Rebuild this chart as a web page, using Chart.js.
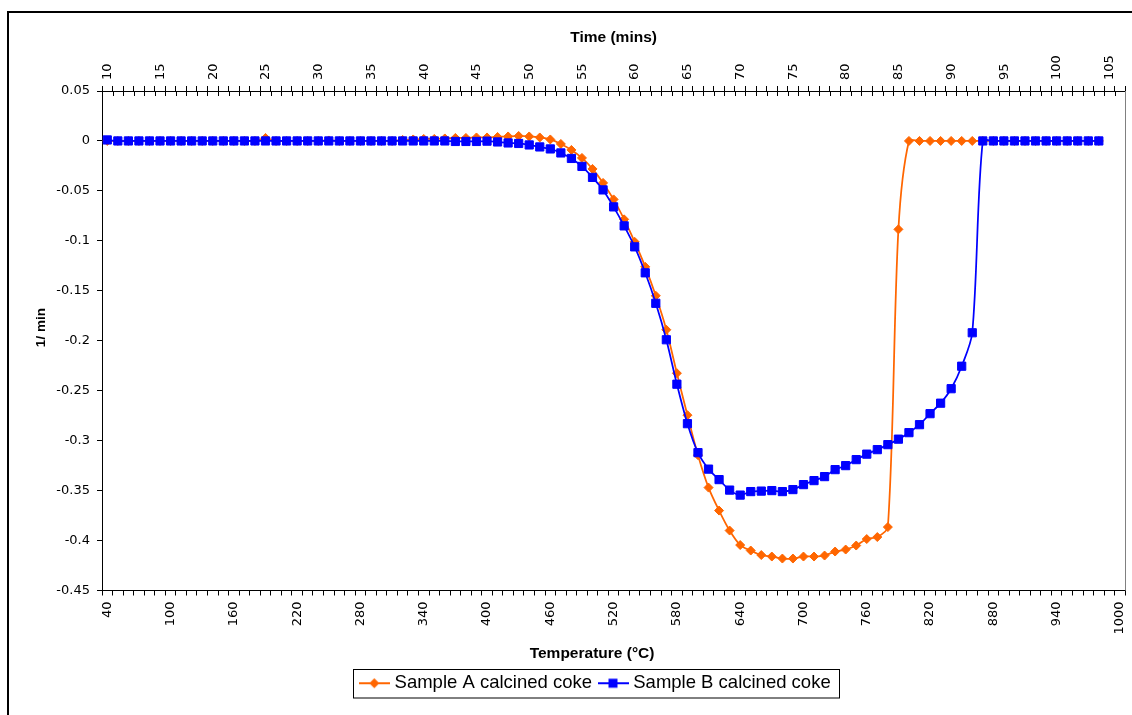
<!DOCTYPE html>
<html>
<head>
<meta charset="utf-8">
<script src="https://cdn.jsdelivr.net/npm/chart.js@4"></script>
<style>
  html, body { margin: 0; padding: 0; background: #fff; overflow: hidden; }
  #wrap { position: relative; width: 1132px; height: 715px; }
  #frame { position: absolute; left: 7px; top: 11px; width: 1300px; height: 900px; border: 2px solid #000; }
  #myChart { position: absolute; left: 0; top: 0; }
</style>
</head>
<body>
<div id="wrap">
  <div id="frame"></div>
  <canvas id="myChart" width="1132" height="715"></canvas>
</div>
<script>
// temperature categories (°C), one per minute
const temps = [
  40, 50, 60, 70, 80, 90, 100, 110, 120, 130, 140, 150, 160, 170, 180, 190, 200, 210, 220, 230,
  240, 250, 260, 270, 280, 290, 300, 310, 320, 330, 340, 350, 360, 370, 380, 390, 400, 410, 420, 430,
  440, 450, 460, 470, 480, 490, 500, 510, 520, 530, 540, 550, 560, 570, 580, 590, 600, 610, 620, 630,
  640, 650, 660, 670, 680, 690, 700, 710, 720, 730, 740, 750, 760, 770, 780, 790, 800, 810, 820, 830,
  840, 850, 860, 870, 880, 890, 900, 910, 920, 930, 940, 950, 960, 970, 980, 990, 1000
];
// time categories (mins) for the top axis
const times = [
  10, 11, 12, 13, 14, 15, 16, 17, 18, 19, 20, 21, 22, 23, 24, 25, 26, 27, 28, 29,
  30, 31, 32, 33, 34, 35, 36, 37, 38, 39, 40, 41, 42, 43, 44, 45, 46, 47, 48, 49,
  50, 51, 52, 53, 54, 55, 56, 57, 58, 59, 60, 61, 62, 63, 64, 65, 66, 67, 68, 69,
  70, 71, 72, 73, 74, 75, 76, 77, 78, 79, 80, 81, 82, 83, 84, 85, 86, 87, 88, 89,
  90, 91, 92, 93, 94, 95, 96, 97, 98, 99, 100, 101, 102, 103, 104, 105, 106
];
const tempTicks = [40, 100, 160, 220, 280, 340, 400, 460, 520, 580, 640, 700, 760, 820, 880, 940, 1000];
const timeTicks = [10, 15, 20, 25, 30, 35, 40, 45, 50, 55, 60, 65, 70, 75, 80, 85, 90, 95, 100, 105];

const sampleA = [
  0, 0, 0, 0, 0, 0, 0, 0, 0, 0, 0, 0, 0, 0, 0, 0.003, 0, 0, 0, 0,
  0, 0.0005, 0, 0, 0, 0, 0, 0, 0.001, 0.0015, 0.002, 0.002, 0.0025, 0.003, 0.003, 0.0035, 0.0035, 0.004, 0.0045, 0.005,
  0.0045, 0.0035, 0.0015, -0.003, -0.009, -0.017, -0.028, -0.042, -0.0585, -0.0785, -0.101, -0.126, -0.155, -0.189, -0.2325, -0.2745, -0.3145, -0.347, -0.37, -0.39,
  -0.4045, -0.41, -0.4145, -0.416, -0.418, -0.418, -0.416, -0.416, -0.415, -0.411, -0.409, -0.405, -0.3985, -0.3965, -0.3865, -0.0885, 0, 0, 0, 0,
  0, 0, 0, 0, 0, 0, 0, 0, 0, 0, 0, 0, 0, 0, 0
];
const sampleB = [
  0.001, 0, 0, 0, 0, 0, 0, 0, 0, 0, 0, 0, 0, 0, 0, 0, 0, 0, 0, 0,
  0, 0, 0, 0, 0, 0, 0, 0, 0, 0, 0, 0, 0, -0.0005, -0.0005, -0.0005, -0.0002, -0.001, -0.002, -0.0025,
  -0.004, -0.006, -0.008, -0.012, -0.0175, -0.0255, -0.0365, -0.049, -0.066, -0.085, -0.106, -0.132, -0.1625, -0.199, -0.2435, -0.283, -0.312, -0.3285, -0.339, -0.3495,
  -0.3545, -0.351, -0.3505, -0.35, -0.351, -0.349, -0.344, -0.34, -0.336, -0.329, -0.325, -0.319, -0.3135, -0.309, -0.304, -0.2985, -0.292, -0.284, -0.273, -0.2625,
  -0.248, -0.2255, -0.192, 0, 0, 0, 0, 0, 0, 0, 0, 0, 0, 0, 0
];

const orange = '#FF6600';
const blue = '#0000FF';
const tickFont = { family: '"DejaVu Sans", sans-serif', size: 13 };
const titleFont = { family: '"Liberation Sans", Arial, sans-serif', size: 15.5, weight: 'bold' };

// little line + marker pictures for the legend
function legendIcon(color, diamond) {
  const c = document.createElement('canvas');
  c.width = 31; c.height = 14;
  const g = c.getContext('2d');
  g.strokeStyle = color; g.lineWidth = 2;
  g.beginPath(); g.moveTo(0, 7); g.lineTo(31, 7); g.stroke();
  g.fillStyle = color;
  g.beginPath();
  if (diamond) { g.moveTo(15.5, 2); g.lineTo(20.5, 7); g.lineTo(15.5, 12); g.lineTo(10.5, 7); }
  else { g.rect(11, 2.5, 9, 9); }
  g.fill();
  return c;
}
const icons = [legendIcon(orange, true), legendIcon(blue, false)];

// legend border + position, right border of plot, inner half of top ticks
const frames = {
  id: 'frames',
  afterLayout(chart) {
    const lg = chart.legend;
    const dx = 597 - (lg.left + lg.right) / 2;
    const dy = 664 - lg.top;
    lg.left += dx; lg.right += dx; lg.top += dy; lg.bottom += dy;
  },
  afterDraw(chart) {
    const { ctx, chartArea: a } = chart;
    ctx.save();
    ctx.lineWidth = 1;
    ctx.strokeStyle = '#808080';
    ctx.beginPath();
    ctx.moveTo(Math.round(a.right) + 0.5, a.top);
    ctx.lineTo(Math.round(a.right) + 0.5, a.bottom);
    ctx.stroke();

    const top = chart.scales.x2;
    const n = top.ticks.length, step = top.width / n;
    ctx.strokeStyle = '#000';
    ctx.beginPath();
    for (let i = 0; i < n; i++) {
      const x = Math.round(top.left + i * step) + 0.5;
      ctx.moveTo(x, a.top); ctx.lineTo(x, a.top + 5);
    }
    ctx.stroke();

    const boxes = chart.legend.legendHitBoxes;
    if (boxes.length) {
      const f = boxes[0], l = boxes[boxes.length - 1];
      const x0 = Math.round(f.left - 10.5) + 0.5, y0 = Math.round(f.top - 5) + 0.5;
      const x1 = Math.round(l.left + l.width + 8) + 0.5;
      ctx.strokeStyle = '#000';
      ctx.strokeRect(x0, y0, x1 - x0, f.height + 10);
    }
    ctx.restore();
  }
};

const data = {
  labels: temps,
  datasets: [{
    label: 'Sample A calcined coke',
    data: sampleA,
    borderColor: orange,
    backgroundColor: orange,
    borderWidth: 1.75,
    pointStyle: 'rectRot',
    pointRadius: 4.5,
    pointBorderWidth: 1,
    tension: 0.3,
    order: 2
  }, {
    label: 'Sample B calcined coke',
    data: sampleB,
    borderColor: blue,
    backgroundColor: blue,
    borderWidth: 1.75,
    pointStyle: 'rect',
    pointRadius: 5.8,
    pointBorderWidth: 1,
    tension: 0.3,
    order: 1
  }]
};

const config = {
  type: 'line',
  data: data,
  plugins: [frames],
  options: {
    responsive: false,
    animation: false,
    layout: { padding: { left: 8, right: 6, top: 12, bottom: 0 } },
    plugins: {
      tooltip: { enabled: false },
      legend: {
        position: 'bottom',
        labels: {
          color: '#000',
          font: { family: '"Liberation Sans", Arial, sans-serif', size: 18.5 },
          usePointStyle: true,
          pointStyleWidth: 22,
          padding: 10,
          sort: (a, b) => a.datasetIndex - b.datasetIndex,
          generateLabels: (chart) => Chart.defaults.plugins.legend.labels.generateLabels(chart).map(item => {
            item.pointStyle = icons[item.datasetIndex];
            return item;
          })
        }
      }
    },
    scales: {
      x: {
        type: 'category',
        position: 'bottom',
        offset: true,
        grid: { offset: true, drawOnChartArea: false, tickLength: 5, color: '#000' },
        border: { color: '#000' },
        ticks: {
          autoSkip: false, minRotation: 90, maxRotation: 90, padding: 6,
          color: '#000', font: tickFont,
          callback: function (value) {
            const t = this.getLabelForValue(value);
            return tempTicks.includes(t) ? String(t) : '';
          }
        },
        // trailing spaces move the centred title left, as in the original
        title: { display: true, text: 'Temperature (°C)' + ' '.repeat(10), color: '#000', font: titleFont, padding: { top: 0, bottom: 13.5 } },
        afterFit: (s) => { s.height = 86; s.paddingLeft = 0; s.paddingRight = 0; }
      },
      x2: {
        type: 'category',
        position: 'top',
        labels: times,
        offset: true,
        grid: { offset: true, drawOnChartArea: false, tickLength: 5, color: '#000' },
        border: { color: '#000' },
        ticks: {
          autoSkip: false, minRotation: 90, maxRotation: 90, padding: 6, labelOffset: 16,
          color: '#000', font: tickFont,
          callback: function (value) {
            const t = this.getLabelForValue(value);
            return timeTicks.includes(t) ? String(t) : '';
          }
        },
        title: { display: true, text: 'Time (mins)', color: '#000', font: titleFont, padding: { top: 16.5, bottom: 0 } },
        afterFit: (s) => { s.height = 79; s.paddingLeft = 0; s.paddingRight = 0; }
      },
      y: {
        type: 'linear',
        min: -0.45,
        max: 0.05,
        grid: { drawOnChartArea: false, tickLength: 5, color: '#000' },
        border: { color: '#000' },
        ticks: {
          stepSize: 0.05, padding: 7, color: '#000', font: tickFont,
          callback: (v) => String(+v.toFixed(2))
        },
        title: {
          display: true, text: ' '.repeat(7) + '1/ min', color: '#000',
          font: { family: '"Liberation Sans", Arial, sans-serif', size: 13.5, weight: 'bold' },
          padding: { top: 25, bottom: 0 }
        },
        afterFit: (s) => { s.width = 94; }
      }
    }
  }
};

const myChart = new Chart(document.getElementById('myChart'), config);
</script>
</body>
</html>
